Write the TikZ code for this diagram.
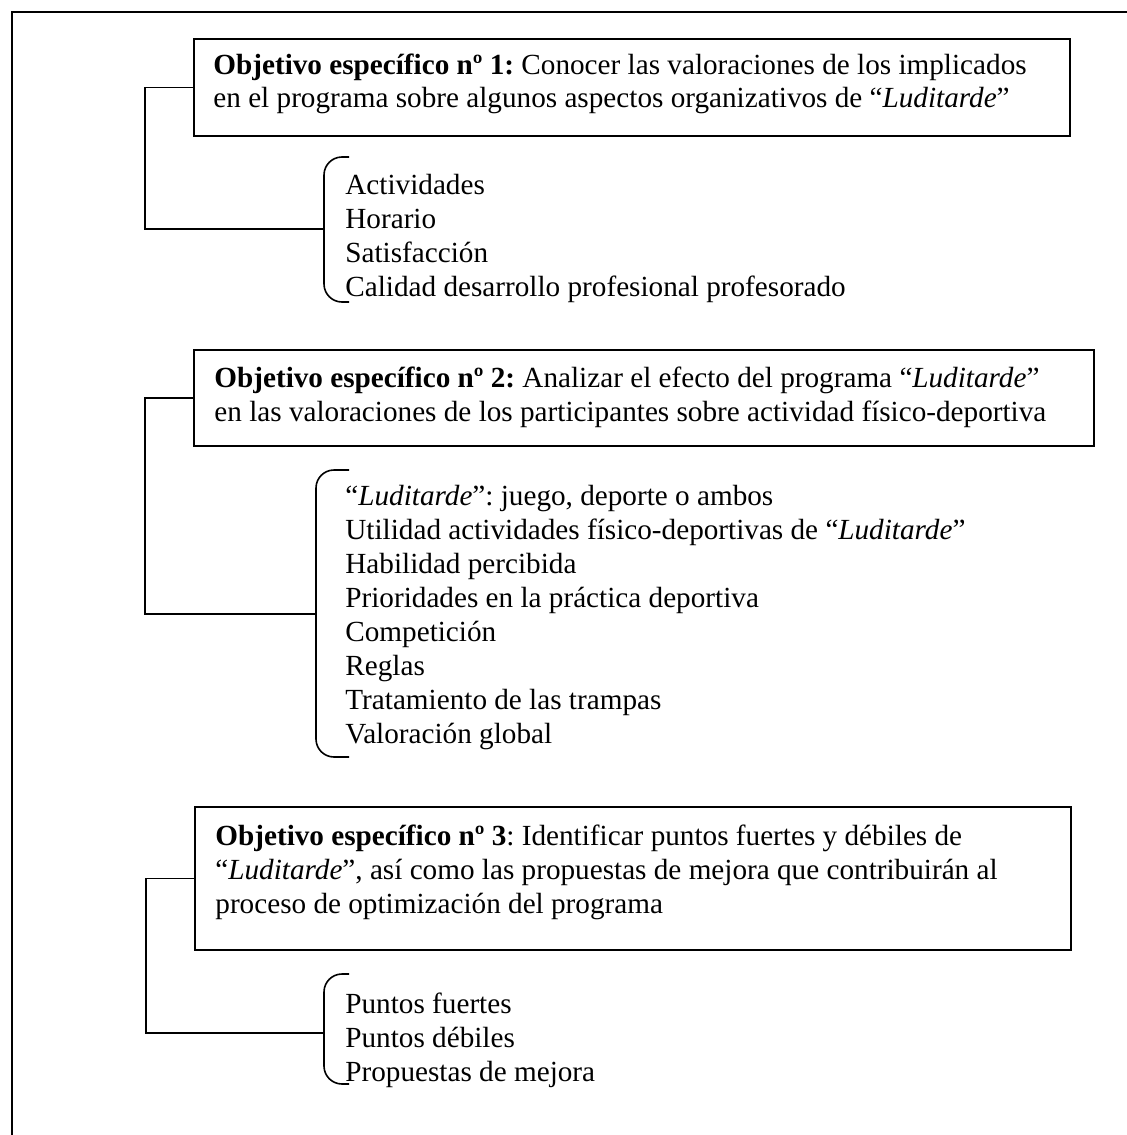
\documentclass[tikz,border=0pt]{standalone}
\usepackage{fontspec}
\setmainfont{Liberation Serif}
\frenchspacing
\begin{document}
\begin{tikzpicture}[x=0.5pt,y=-0.5pt,
  font=\fontsize{14.6}{17}\selectfont,
  lw/.style={line width=0.8pt},
  objbox/.style={draw, lw, anchor=north west, inner sep=0pt},
  txt/.style={anchor=base west, inner sep=0pt},
  link/.style={lw},
  bracket/.style={lw, rounded corners=9pt}]
\useasboundingbox (0,0) rectangle (1127,1135);
\clip (0,0) rectangle (1127,1135);
% outer frame (right and bottom sides fall outside the picture)
\draw[lw] (12,1160) -- (12,12) -- (1160,12);

% objective boxes
\node[objbox, minimum width=438pt, minimum height=48.5pt] (box1) at (193,38) {};
\node[objbox, minimum width=450pt, minimum height=48pt] (box2) at (193,349) {};
\node[objbox, minimum width=438pt, minimum height=71.5pt] (box3) at (194,806) {};

% box texts
\node[txt] (t1) at (213,74) {\begin{tabular}[t]{@{}l@{}}
\textbf{Objetivo específico nº 1:} Conocer las valoraciones de los implicados\\
en el programa sobre algunos aspectos organizativos de “\textit{Luditarde}”
\end{tabular}};
\node[txt] (t2) at (214,387) {\begin{tabular}[t]{@{}l@{}}
\textbf{Objetivo específico nº 2:} Analizar el efecto del programa “\textit{Luditarde}”\\
en las valoraciones de los participantes sobre actividad físico-deportiva
\end{tabular}};
\node[txt] (t3) at (215,845) {\begin{tabular}[t]{@{}l@{}}
\textbf{Objetivo específico nº 3}: Identificar puntos fuertes y débiles de\\
“\textit{Luditarde}”, así como las propuestas de mejora que contribuirán al\\
proceso de optimización del programa
\end{tabular}};

% lists
\node[txt] (l1) at (345,194) {\begin{tabular}[t]{@{}l@{}}
Actividades\\
Horario\\
Satisfacción\\
Calidad desarrollo profesional profesorado
\end{tabular}};
\node[txt] (l2) at (345,505) {\begin{tabular}[t]{@{}l@{}}
“\textit{Luditarde}”: juego, deporte o ambos\\
Utilidad actividades físico-deportivas de “\textit{Luditarde}”\\
Habilidad percibida\\
Prioridades en la práctica deportiva\\
Competición\\
Reglas\\
Tratamiento de las trampas\\
Valoración global
\end{tabular}};
\node[txt] (l3) at (345,1013) {\begin{tabular}[t]{@{}l@{}}
Puntos fuertes\\
Puntos débiles\\
Propuestas de mejora
\end{tabular}};

% brackets
\draw[bracket] (349,157) -- (324,157) -- (324,302) -- (349,302);
\coordinate (b1) at (324,229);
\draw[bracket] (349,470) -- (316,470) -- (316,757) -- (349,757);
\coordinate (b2) at (316,614);
\draw[bracket] (349,974) -- (324,974) -- (324,1084) -- (349,1084);
\coordinate (b3) at (324,1033);

% connectors
\draw[link] (box1.west) -- ++(-48,0) |- (b1);
\draw[link] (box2.west) -- ++(-48,0) |- (b2);
\draw[link] (box3.west) -- ++(-48,0) |- (b3);
\end{tikzpicture}
\end{document}
